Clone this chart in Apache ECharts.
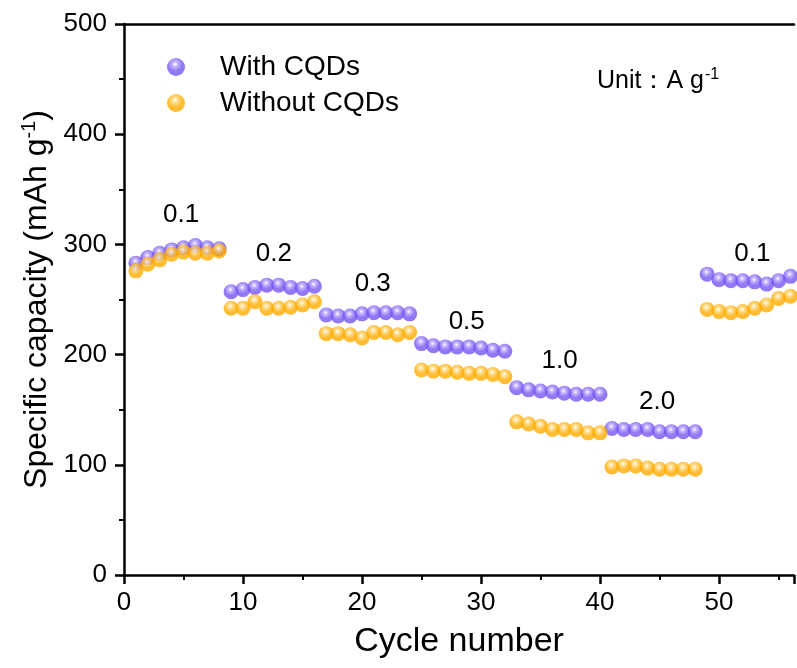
<!DOCTYPE html>
<html>
<head>
<meta charset="utf-8">
<script src="https://cdn.jsdelivr.net/npm/echarts@6/dist/echarts.min.js"></script>
<style>
  html, body { margin: 0; padding: 0; background: #fff; }
  #chart { width: 797px; height: 668px; }
</style>
</head>
<body>
<div id="chart"></div>
<script>
// cycle numbers 1..56
const cycles = [
  1, 2, 3, 4, 5, 6, 7, 8, 9, 10, 11, 12, 13, 14, 15, 16,
  17, 18, 19, 20, 21, 22, 23, 24, 25, 26, 27, 28, 29, 30, 31, 32,
  33, 34, 35, 36, 37, 38, 39, 40, 41, 42, 43, 44, 45, 46, 47, 48,
  49, 50, 51, 52, 53, 54, 55, 56
];

const withCQDs = [
  283, 288, 292, 295, 297, 299, 297, 296,
  257, 259, 261, 263, 263, 261, 260, 262,
  236, 235, 235, 237, 238, 238, 238, 237,
  210, 208, 207, 207, 207, 206, 204, 203,
  170, 168, 167, 166, 165, 164, 164, 164,
  133, 132, 132, 132, 130, 130, 130, 130,
  273, 268, 267, 267, 266, 264, 267, 271
];

const withoutCQDs = [
  276, 282, 286, 291, 293, 292, 292, 294,
  242, 242, 248, 242, 242, 243, 245, 248,
  219, 219, 218, 215, 220, 220, 218, 220,
  186, 185, 185, 184, 183, 183, 182, 180,
  139, 137, 135, 132, 132, 132, 129, 129,
  98, 99, 99, 97, 96, 96, 96, 96,
  241, 239, 238, 239, 242, 245, 251, 253
];

// current-density annotations: [cycle, capacity, text]
const rateLabels = [
  [4.8, 327, '0.1'],
  [12.6, 291, '0.2'],
  [20.9, 264, '0.3'],
  [28.8, 230, '0.5'],
  [36.6, 194, '1.0'],
  [44.8, 157, '2.0'],
  [52.8, 291, '0.1']
];

const xTicks = { min: 0, max: 56.3, interval: 10 };
const yTicks = { min: 0, max: 500, interval: 100 };

function ball(base, mid) {
  return {
    type: 'radial', x: 0.45, y: 0.35, r: 0.65,
    colorStops: [
      { offset: 0, color: '#ffffff' },
      { offset: 0.22, color: mid },
      { offset: 0.6, color: base },
      { offset: 1, color: base }
    ]
  };
}

const FONT = 'Liberation Sans, Arial, sans-serif';
const chart = echarts.init(document.getElementById('chart'));

const axisLine = { show: true, lineStyle: { color: '#000', width: 2.5 } };

chart.setOption({
  animation: false,
  backgroundColor: '#fff',
  grid: { left: 124, right: 0, top: 24, bottom: 93 },
  legend: {
    data: ['With CQDs', 'Without CQDs'],
    orient: 'vertical',
    left: 162,
    top: 48,
    itemWidth: 18,
    itemHeight: 18,
    itemGap: 8,
    textStyle: { fontFamily: FONT, fontSize: 28, color: '#000', padding: [0, 0, 0, 30] }
  },
  graphic: [{
    type: 'text',
    left: 597,
    top: 67,
    style: {
      text: 'Unit：A g{sup|-1}',
      fontFamily: FONT,
      fontSize: 25,
      fill: '#000',
      rich: { sup: { fontSize: 16, verticalAlign: 'top', padding: [0, 0, 12, 1], fontFamily: FONT } }
    }
  }],
  xAxis: [{
    type: 'value',
    min: xTicks.min,
    max: xTicks.max,
    interval: xTicks.interval,
    name: 'Cycle number',
    nameLocation: 'middle',
    nameGap: 50,
    nameTextStyle: { fontFamily: FONT, fontSize: 34, color: '#000' },
    axisLine: axisLine,
    axisTick: { show: true, length: 9, lineStyle: { width: 2.5, color: '#000' } },
    minorTick: { show: true, splitNumber: 2, length: 5, lineStyle: { width: 2, color: '#000' } },
    axisLabel: {
      fontFamily: FONT, fontSize: 26, color: '#000', margin: 15,
      formatter: v => (v % 10 === 0 ? String(v) : '')
    },
    splitLine: { show: false }
  }, {
    type: 'value',
    position: 'top',
    min: xTicks.min,
    max: xTicks.max,
    axisLine: axisLine,
    axisTick: { show: false },
    axisLabel: { show: false },
    splitLine: { show: false }
  }],
  yAxis: {
    type: 'value',
    min: yTicks.min,
    max: yTicks.max,
    interval: yTicks.interval,
    name: 'Specific capacity (mAh g{sup|-1})',
    nameLocation: 'middle',
    nameGap: 69,
    nameTextStyle: {
      fontFamily: FONT, fontSize: 32, color: '#000',
      rich: { sup: { fontSize: 20, verticalAlign: 'top', padding: [0, 0, 14, 0], fontFamily: FONT } }
    },
    axisLine: axisLine,
    axisTick: { show: true, length: 9, lineStyle: { width: 2.5, color: '#000' } },
    minorTick: { show: true, splitNumber: 2, length: 5, lineStyle: { width: 2, color: '#000' } },
    axisLabel: { fontFamily: FONT, fontSize: 26, color: '#000', margin: 17 },
    splitLine: { show: false }
  },
  series: [{
    name: 'With CQDs',
    type: 'scatter',
    symbol: 'circle',
    symbolSize: 15,
    data: cycles.map((c, i) => [c, withCQDs[i]]),
    itemStyle: { color: ball('#7656f2', '#b7a3ff') }
  }, {
    name: 'Without CQDs',
    type: 'scatter',
    symbol: 'circle',
    symbolSize: 15,
    data: cycles.map((c, i) => [c, withoutCQDs[i]]),
    itemStyle: { color: ball('#ffac00', '#ffd77a') }
  }, {
    name: 'rates',
    type: 'scatter',
    symbolSize: 1,
    silent: true,
    data: rateLabels,
    itemStyle: { color: 'rgba(0,0,0,0)', opacity: 1 },
    label: {
      show: true,
      position: 'inside',
      formatter: p => p.data[2],
      fontFamily: FONT,
      fontSize: 26,
      color: '#000',
      opacity: 1,
      textBorderWidth: 0
    }
  }]
});
</script>
</body>
</html>
